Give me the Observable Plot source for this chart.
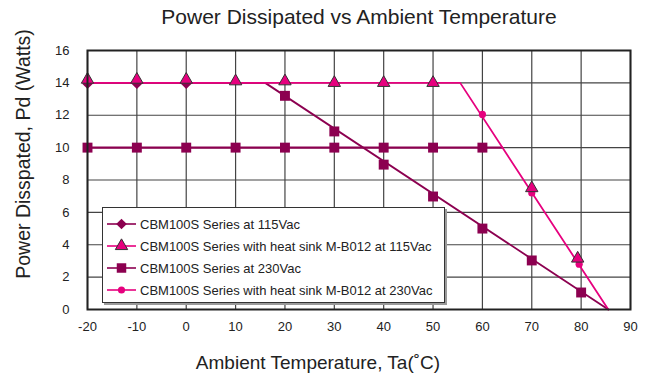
<!DOCTYPE html>
<html>
<head>
<meta charset="utf-8">
<script src="https://cdn.jsdelivr.net/npm/d3@7"></script>
<script src="https://cdn.jsdelivr.net/npm/@observablehq/plot@0.6"></script>
<style>
  body { margin: 0; background: #fff; font-family: "Liberation Sans", Arial, sans-serif; }
  #wrap { position: relative; width: 653px; height: 379px; }
  #legend {
    position: absolute; left: 102px; top: 207px; width: 341px; height: 89px;
    background: #fff; border: 1.5px solid #333; box-shadow: 2px 2px 0 #9a9a9a;
    padding-top: 5px; box-sizing: content-box;
  }
  .row { display: flex; align-items: center; height: 22px; font-size: 13px; color: #222; }
  .row svg { margin-left: 4px; margin-right: 4px; }
</style>
</head>
<body>
<div id="wrap"><div id="legend"></div></div>
<script>
// Tick values
const xTicks = [-20, -10, 0, 10, 20, 30, 40, 50, 60, 70, 80, 90];
const yTicks = [0, 2, 4, 6, 8, 10, 12, 14, 16];

// Texts
const titleText = "Power Dissipated vs Ambient Temperature";
const xLabel = "Ambient Temperature, Ta(˚C)";
const yLabel = "Power Disspated, Pd (Watts)";

// Series names
const names = [
  "CBM100S Series at 115Vac",
  "CBM100S Series with heat sink M-B012 at 115Vac",
  "CBM100S Series at 230Vac",
  "CBM100S Series with heat sink M-B012 at 230Vac"
];
const maroon = "#8c0050";
const pink = "#e6007e";

// Line vertices
const lineNoSinkX = [-20, 16, 85.5];
const lineNoSinkY = [14, 14, 0];
const lineSinkX = [-20, 55.5, 85.5];
const lineSinkY = [14, 14, 0];
const line230FlatX = [-20, 64];
const line230FlatY = [10, 10];

// Markers
const diamondX = [-20, -10, 0];
const diamondY = [13.95, 13.95, 13.95];
const triangleX = [-20, -10, 0, 10, 20, 30, 40, 50, 70, 79.3];
const triangleY = [14.2, 14.2, 14.2, 14.1, 14.1, 14.0, 14.0, 14.0, 7.5, 3.15];
const squareFlatX = [-20, -10, 0, 10, 20, 30, 40, 50, 60];
const squareFlatY = [10, 10, 10, 10, 10, 10, 10, 10, 10];
const squareDropX = [20, 30, 40, 50, 60, 70, 80];
const squareDropY = [13.2, 11.0, 8.95, 6.98, 5.0, 3.03, 1.05];
const circleX = [60, 70, 79.6];
const circleY = [12.05, 7.2, 2.8];

const pts = (xs, ys) => xs.map((x, i) => ({x, y: ys[i]}));

const chart = Plot.plot({
  width: 653,
  height: 379,
  marginTop: 50,
  marginBottom: 70,
  marginLeft: 87,
  marginRight: 23,
  style: {fontFamily: "'Liberation Sans', Arial, sans-serif", color: "#222", background: "transparent", overflow: "visible"},
  x: {domain: [-20, 90], axis: null},
  y: {domain: [0, 16], axis: null},
  marks: [
    Plot.gridX(xTicks, {stroke: "#444", strokeOpacity: 1, strokeWidth: 1.2}),
    Plot.gridY(yTicks, {stroke: "#444", strokeOpacity: 1, strokeWidth: 1.2}),
    Plot.axisX(xTicks, {tickSize: 0, tickPadding: 12, fontSize: 13, label: null, tickFormat: d => String(d)}),
    Plot.axisY(yTicks, {tickSize: 0, tickPadding: 18, fontSize: 13, label: null}),
    Plot.line(pts(lineNoSinkX, lineNoSinkY), {x: "x", y: "y", stroke: maroon, strokeWidth: 1.8}),
    Plot.line(pts(line230FlatX, line230FlatY), {x: "x", y: "y", stroke: maroon, strokeWidth: 2.4}),
    Plot.line(pts(lineSinkX, lineSinkY), {x: "x", y: "y", stroke: pink, strokeWidth: 1.8}),
    Plot.dot(pts(diamondX, diamondY), {x: "x", y: "y", symbol: "diamond2", r: 4.8, fill: maroon}),
    Plot.dot(pts(circleX, circleY), {x: "x", y: "y", symbol: "circle", r: 3.6, fill: pink}),
    Plot.dot(pts(squareFlatX, squareFlatY), {x: "x", y: "y", symbol: "square", r: 5.6, fill: maroon}),
    Plot.dot(pts(squareDropX, squareDropY), {x: "x", y: "y", symbol: "square", r: 5.6, fill: maroon}),
    Plot.dot(pts(triangleX, triangleY), {x: "x", y: "y", symbol: "triangle", r: 4.6, fill: pink, stroke: "#333", strokeWidth: 1}),
    Plot.frame({stroke: "#222", strokeWidth: 2}),
    Plot.text([titleText], {frameAnchor: "top", lineAnchor: "middle", dy: -33, fontSize: 21, fill: "#222"}),
    Plot.text([xLabel], {frameAnchor: "bottom", lineAnchor: "middle", dx: -41, dy: 53, fontSize: 19, fill: "#222"}),
    Plot.text([yLabel], {frameAnchor: "left", textAnchor: "middle", lineAnchor: "middle", dx: -64, dy: -26, rotate: -90, fontSize: 19.5, fill: "#222"})
  ]
});
document.getElementById("wrap").prepend(chart);

// Legend
const legendSpec = [
  {name: names[0], color: maroon, symbol: d3.symbolDiamond2, size: 72, stroke: null},
  {name: names[1], color: pink, symbol: d3.symbolTriangle, size: 66, stroke: "#333"},
  {name: names[2], color: maroon, symbol: d3.symbolSquare, size: 90, stroke: null},
  {name: names[3], color: pink, symbol: d3.symbolCircle, size: 40, stroke: null}
];
const legend = document.getElementById("legend");
for (const s of legendSpec) {
  const row = document.createElement("div");
  row.className = "row";
  const path = d3.symbol(s.symbol, s.size)();
  row.innerHTML = `<svg width="29" height="16"><line x1="0" x2="29" y1="8" y2="8" stroke="${s.color}" stroke-width="1.6"/>` +
    `<path d="${path}" transform="translate(14.5,8)" fill="${s.color}" ${s.stroke ? `stroke="${s.stroke}" stroke-width="1"` : ""}/></svg><span>${s.name}</span>`;
  legend.appendChild(row);
}
</script>
</body>
</html>
